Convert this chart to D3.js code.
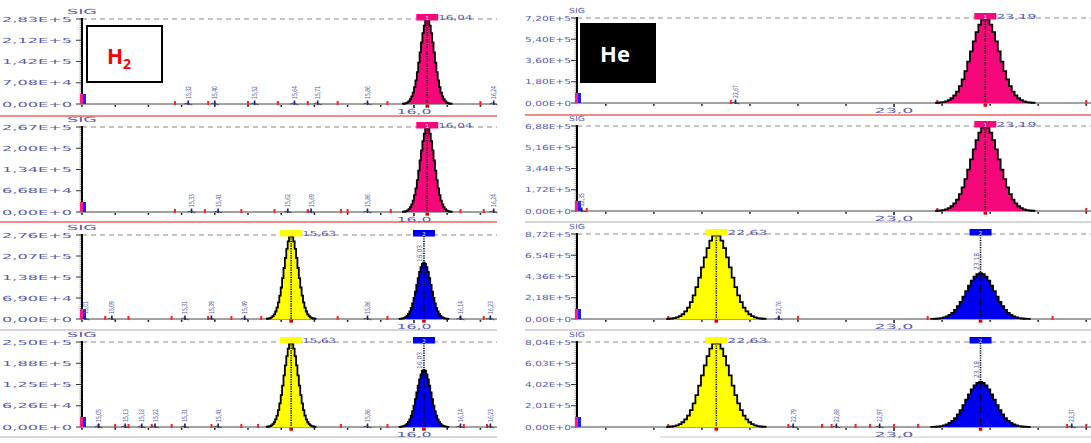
<!DOCTYPE html>
<html>
<head>
<meta charset="utf-8">
<script src="https://cdn.jsdelivr.net/npm/d3@7"></script>
<style>
  body { margin: 0; background: #fff; }
  svg { display: block; }
</style>
</head>
<body>
<svg id="chart" width="1091" height="443"></svg>
<script>
// ---- data ----
// panel full-scale values (counts) and their tick labels, top to bottom
var leftMax = [2.83e5, 2.67e5, 2.76e5, 2.50e5];
var leftTickLabels = [
    ["0,00E+0", "7,08E+4", "1,42E+5", "2,12E+5", "2,83E+5"],
    ["0,00E+0", "6,68E+4", "1,34E+5", "2,00E+5", "2,67E+5"],
    ["0,00E+0", "6,90E+4", "1,38E+5", "2,07E+5", "2,76E+5"],
    ["0,00E+0", "6,26E+4", "1,25E+5", "1,88E+5", "2,50E+5"]
];
var rightMax = [7.20e5, 6.88e5, 8.72e5, 8.04e5];
var rightTickLabels = [
    ["0,00E+0", "1,80E+5", "3,60E+5", "5,40E+5", "7,20E+5"],
    ["0,00E+0", "1,72E+5", "3,44E+5", "5,16E+5", "6,88E+5"],
    ["0,00E+0", "2,18E+5", "4,36E+5", "6,54E+5", "8,72E+5"],
    ["0,00E+0", "2,01E+5", "4,02E+5", "6,03E+5", "8,04E+5"]
];

// main peaks per panel: retention time (min), height, component (0 pink, 1 yellow, 2 blue)
var leftPeakRT = [[16.04], [16.04], [15.63, 16.03], [15.63, 16.03]];
var leftPeakH = [[2.83e5], [2.67e5], [2.76e5, 1.85e5], [2.50e5, 1.68e5]];
var leftPeakComp = [[0], [0], [1, 2], [1, 2]];
var leftSigma = 0.021;   // peak sigma, min

var rightPeakRT = [[23.19], [23.19], [22.63, 23.18], [22.63, 23.18]];
var rightPeakH = [[7.20e5], [6.88e5], [8.72e5, 4.70e5], [8.04e5, 4.26e5]];
var rightPeakComp = [[0], [0], [1, 2], [1, 2]];
var rightSigma = 0.029;

// normalised peak profile, sampled every 0.2 sigma from -3.6 to +3.6
var peakShape = [0.0015, 0.003, 0.006, 0.011, 0.020, 0.034, 0.056, 0.089, 0.135, 0.198, 0.278, 0.375, 0.487, 0.607,
                 0.726, 0.835, 0.923, 0.980, 1,
                 0.980, 0.923, 0.835, 0.726, 0.607, 0.487, 0.375, 0.278, 0.198, 0.135, 0.089, 0.056, 0.034,
                 0.020, 0.011, 0.006, 0.003, 0.0015];

// small peaks (retention times, min)
var leftSmall = [
    [15.32, 15.40, 15.52, 15.64, 15.71, 15.86, 16.24],
    [15.33, 15.41, 15.62, 15.69, 15.86, 16.24],
    [15.01, 15.09, 15.31, 15.39, 15.49, 15.86, 16.14, 16.23],
    [15.05, 15.13, 15.18, 15.22, 15.31, 15.41, 15.86, 16.14, 16.23]
];
var rightSmall = [
    [22.67],
    [22.35],
    [22.76],
    [22.79, 22.88, 22.97, 23.37]
];

// integration event marks (red) on the baseline
var leftEvents = [
    [15.28, 15.38, 15.50, 15.59, 15.68, 15.77, 15.92, 16.20],
    [15.28, 15.37, 15.48, 15.58, 15.68, 15.78, 15.80, 15.93, 16.14, 16.21],
    [15.07, 15.14, 15.27, 15.38, 15.45, 15.54, 15.77, 15.92, 16.14, 16.21],
    [15.05, 15.10, 15.14, 15.21, 15.27, 15.39, 15.48, 15.53, 15.78, 15.92, 16.15, 16.22]
];
var rightEvents = [
    [22.66, 23.09, 23.40],
    [22.36, 23.09, 23.40],
    [22.53, 22.76, 22.80, 23.07, 23.33],
    [22.53, 22.78, 22.85, 22.87, 22.92, 22.95, 23.00, 23.05, 23.36, 23.40]
];

// ---- drawing ----
var compColor = ["#f5087a", "#ffff00", "#0000f0"];
var textColor = "#5a5ab4";
var svg = d3.select("#chart");

var sides = [
    {
        axisX: 82, right: 497, domain: [15.0, 16.25],
        tops: [19, 127, 235, 342], bases: [104, 212, 319, 427],
        max: leftMax, ticks: leftTickLabels,
        rt: leftPeakRT, h: leftPeakH, comp: leftPeakComp, sigma: leftSigma,
        small: leftSmall, events: leftEvents,
        xTick: 16.0, xTickLabel: "16,0", xLabW: 35,
        yLabX: 2, yLabW: 70, sigW: 30, rtLabW: 34, blueLabOff: 10
    },
    {
        axisX: 577, right: 1091, domain: [22.34, 23.41],
        tops: [18, 126, 234, 342], bases: [103, 211, 319, 427],
        max: rightMax, ticks: rightTickLabels,
        rt: rightPeakRT, h: rightPeakH, comp: rightPeakComp, sigma: rightSigma,
        small: rightSmall, events: rightEvents,
        xTick: 23.0, xTickLabel: "23,0", xLabW: 39,
        yLabX: 525, yLabW: 46, sigW: 16, rtLabW: 40, blueLabOff: 19
    }
];

function fmt(v) { return d3.format(".2f")(v).replace(".", ","); }

function wideText(g, x, y, str, w, size) {
    return g.append("text")
        .attr("x", x).attr("y", y)
        .attr("font-family", "DejaVu Sans")
        .attr("font-size", size)
        .attr("textLength", w)
        .attr("lengthAdjust", "spacingAndGlyphs")
        .attr("fill", textColor)
        .text(str);
}

// separator lines
var sepLines = [
    {x1: 0, x2: 497, y: 116, c: "#f06060"}, {x1: 0, x2: 497, y: 222, c: "#f06060"},
    {x1: 0, x2: 497, y: 330, c: "#c8c8c8"}, {x1: 0, x2: 497, y: 437, c: "#c8c8c8"},
    {x1: 525, x2: 1091, y: 115, c: "#f06060"}, {x1: 525, x2: 1091, y: 222, c: "#c8c8c8"},
    {x1: 525, x2: 1091, y: 330, c: "#c8c8c8"}, {x1: 660, x2: 1091, y: 437, c: "#d8d8d8"}
];
svg.selectAll(".sep").data(sepLines).enter().append("line")
    .attr("class", "sep")
    .attr("x1", function (d) { return d.x1; }).attr("x2", function (d) { return d.x2; })
    .attr("y1", function (d) { return d.y; }).attr("y2", function (d) { return d.y; })
    .attr("stroke", function (d) { return d.c; }).attr("stroke-width", 1.5);

sides.forEach(function (side) {
    var x = d3.scaleLinear().domain(side.domain).range([side.axisX, side.right]);

    side.max.forEach(function (mx, i) {
        var top = side.tops[i], base = side.bases[i];
        var y = d3.scaleLinear().domain([0, mx]).range([base, top]);
        var g = svg.append("g");

        // dashed full-scale line
        g.append("line")
            .attr("x1", side.axisX).attr("x2", side.right)
            .attr("y1", y(mx)).attr("y2", y(mx))
            .attr("stroke", "#8a8a8a").attr("stroke-width", 1.2)
            .attr("stroke-dasharray", "5,4");

        // baseline
        g.append("line")
            .attr("x1", side.axisX).attr("x2", side.right)
            .attr("y1", base).attr("y2", base)
            .attr("stroke", "#444").attr("stroke-width", 1);

        // x minor ticks every 0.1 min
        var xt = d3.range(Math.ceil(side.domain[0] * 10), Math.floor(side.domain[1] * 10) + 1)
            .map(function (k) { return k / 10; });
        g.selectAll(".xt").data(xt).enter().append("rect")
            .attr("x", function (d) { return x(d) - 0.8; })
            .attr("y", base + 1)
            .attr("width", 1.6)
            .attr("height", function (d) { return Math.abs(d - side.xTick) < 1e-6 ? 3 : 1.8; })
            .attr("fill", "#222");

        // x label
        wideText(g, x(side.xTick) - side.xLabW / 2, base + 10, side.xTickLabel, side.xLabW, 7);

        // y ticks
        var tv = d3.range(5).map(function (k) { return mx * k / 4; });
        var minor = d3.range(41).map(function (k) { return mx * k / 40; });
        g.selectAll(".ym").data(minor).enter().append("line")
            .attr("x1", side.axisX - 2.5).attr("x2", side.axisX)
            .attr("y1", function (d) { return y(d); }).attr("y2", function (d) { return y(d); })
            .attr("stroke", "#555").attr("stroke-width", 0.6);
        g.selectAll(".yt").data(tv).enter().append("line")
            .attr("x1", side.axisX - 6).attr("x2", side.axisX)
            .attr("y1", function (d) { return y(d); }).attr("y2", function (d) { return y(d); })
            .attr("stroke", "#333").attr("stroke-width", 1);
        tv.forEach(function (v, k) {
            wideText(g, side.yLabX, y(v) + 2.5, side.ticks[i][k], side.yLabW, 7);
        });

        // SIG
        wideText(g, side.axisX - side.sigW / 2, top - 5, "SIG", side.sigW, 7);

        // y axis line
        g.append("line")
            .attr("x1", side.axisX).attr("x2", side.axisX)
            .attr("y1", top - 1).attr("y2", base)
            .attr("stroke", "#000").attr("stroke-width", 2);

        // start bars at the axis foot
        g.append("rect").attr("x", side.axisX - 2).attr("y", base - 10)
            .attr("width", 3).attr("height", 10).attr("fill", "#ff1a8c");
        g.append("rect").attr("x", side.axisX + 1).attr("y", base - 10)
            .attr("width", 3).attr("height", 10).attr("fill", "#2020ff");

        // integration events
        g.selectAll(".ev").data(side.events[i]).enter().append("rect")
            .attr("x", function (d) { return x(d) - 1; })
            .attr("y", base - 3).attr("width", 2).attr("height", 4)
            .attr("fill", "#ff2020");

        // small peaks
        side.small[i].forEach(function (rt) {
            var px = x(rt);
            g.append("line")
                .attr("x1", px).attr("x2", px)
                .attr("y1", base - 3.5).attr("y2", base + 1)
                .attr("stroke", "#1a1aa0").attr("stroke-width", 1.6);
            g.append("path")
                .attr("d", "M" + (px - 4) + "," + base + "L" + (px - 1) + "," + (base - 1) + "L" + (px + 4) + "," + (base + 1))
                .attr("fill", "none").attr("stroke", "#333").attr("stroke-width", 0.8);
            wideText(g, 0, 0, fmt(rt), 13, 7)
                .attr("transform", "translate(" + (px + 2.5) + "," + (base - 5) + ") rotate(-90)");
        });

        // main peaks
        var area = d3.area()
            .x(function (d) { return x(d.t); })
            .y0(base)
            .y1(function (d) { return y(d.v); })
            .curve(d3.curveStep);
        var line = d3.line()
            .x(function (d) { return x(d.t); })
            .y(function (d) { return y(d.v); })
            .curve(d3.curveStep);

        side.rt[i].forEach(function (rt, j) {
            var h = side.h[i][j], c = side.comp[i][j];
            var mid = (peakShape.length - 1) / 2;
            var pts = peakShape.map(function (s, k) {
                return {t: rt + (k - mid) * 0.2 * side.sigma, v: h * s};
            });
            g.append("path").datum(pts).attr("d", area).attr("fill", compColor[c]);
            g.append("path").datum(pts).attr("d", line)
                .attr("fill", "none").attr("stroke", "#000").attr("stroke-width", 1.8);

            var px = x(rt);
            // dotted centre line
            g.append("line")
                .attr("x1", px).attr("x2", px)
                .attr("y1", top + 1).attr("y2", base)
                .attr("stroke", "#000").attr("stroke-width", 1.6)
                .attr("stroke-dasharray", "1.2,1.2");
            // red marker at the apex time
            g.append("rect").attr("x", px - 1.8).attr("y", base + 0.5)
                .attr("width", 3.6).attr("height", 3.2).attr("fill", "#e00000");
            // tag
            g.append("rect").attr("x", px - 11).attr("y", top - 5)
                .attr("width", 22).attr("height", 6.5).attr("fill", compColor[c]);
            g.append("text").attr("x", px).attr("y", top + 0.5)
                .attr("text-anchor", "middle")
                .attr("font-family", "DejaVu Sans").attr("font-size", 5.5)
                .attr("fill", c === 1 ? "#d8d890" : "#fff")
                .text(c === 2 ? "2" : "1");
            if (c === 2) {
                wideText(g, 0, 0, fmt(rt), 17, 7)
                    .attr("transform", "translate(" + (px - 2) + "," + (top + side.blueLabOff + 17) + ") rotate(-90)");
            } else {
                wideText(g, px + 11, top + 0.5, fmt(rt), side.rtLabW, 7);
            }
        });
    });
});

// gas labels
svg.append("rect").attr("x", 87).attr("y", 26).attr("width", 75).attr("height", 56)
    .attr("fill", "#fff").attr("stroke", "#000").attr("stroke-width", 2);
var h2 = svg.append("text").attr("x", 107).attr("y", 64)
    .attr("font-family", "Open Sans").attr("font-weight", "bold")
    .attr("font-size", 21).attr("fill", "#ff0000");
h2.append("tspan").text("H");
h2.append("tspan").attr("font-size", 14).attr("dy", 5).text("2");

svg.append("rect").attr("x", 580).attr("y", 23).attr("width", 76).attr("height", 60)
    .attr("fill", "#000");
svg.append("text").attr("x", 615).attr("y", 62).attr("text-anchor", "middle")
    .attr("font-family", "Open Sans").attr("font-weight", "bold")
    .attr("font-size", 22).attr("fill", "#fff").text("He");
</script>
</body>
</html>
